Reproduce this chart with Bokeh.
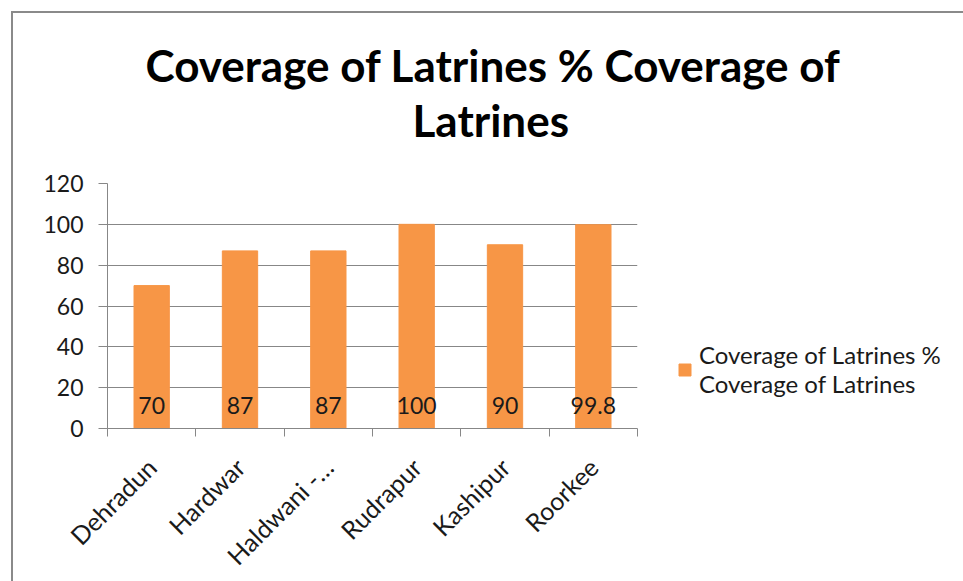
import numpy as np
from bokeh.plotting import figure
from bokeh.models import (ColumnDataSource, FixedTicker, Range1d, Title, Legend, LegendItem)
from bokeh.core.properties import value
from bokeh.embed import file_html
from bokeh.resources import INLINE

categories = ["Dehradun", "Hardwar", "Haldwani -…", "Rudrapur", "Kashipur", "Roorkee"]
coverage = [70, 87, 87, 100, 90, 99.8]
y_ticks = [0, 20, 40, 60, 80, 100, 120]
series_name = "Coverage of Latrines %\nCoverage of Latrines"
title_lines = ["Coverage of Latrines % Coverage of", "Latrines"]

FONT = "Lato"
GRID = "#878787"
BAR = "#F79646"

n = len(categories)
centers = np.arange(n) + 0.5
src = ColumnDataSource(dict(x=centers, top=coverage,
                            lbl=[f"{v:g}" for v in coverage]))

p = figure(frame_width=530, frame_height=245, output_backend="svg", toolbar_location=None,
           x_range=Range1d(0, n), y_range=Range1d(0, 120),
           min_border_left=94, min_border_right=326, min_border_top=170,
           min_border_bottom=153)
p.styles = {"margin-left": "11px", "margin-top": "11px",
            "border-left": "2px solid #8a8a8a", "border-top": "2px solid #8a8a8a"}
p.outline_line_color = None
p.background_fill_color = "white"
p.border_fill_color = "white"

r = p.vbar(x="x", top="top", bottom=0, width=0.4, color=BAR, source=src)
p.text(x="x", y=0, text="lbl", source=src, text_align="center",
       text_baseline="middle", y_offset=-23, text_font=value(FONT),
       text_font_size="23px", text_color="#1a1a1a")

# y axis
p.yaxis.ticker = FixedTicker(ticks=y_ticks)
p.yaxis.axis_line_color = GRID
p.yaxis.major_tick_line_color = GRID
p.yaxis.major_tick_out = 9
p.yaxis.major_tick_in = 0
p.yaxis.minor_tick_line_color = None
p.yaxis.major_label_standoff = 15
p.yaxis.major_label_text_font = FONT
p.yaxis.major_label_text_font_size = "23px"
p.yaxis.major_label_text_color = "#1a1a1a"

# x axis: labels at centers, ticks at boundaries (minor)
p.xaxis.ticker = FixedTicker(ticks=list(centers), minor_ticks=list(range(n + 1)))
p.xaxis.major_label_overrides = {float(c): cat for c, cat in zip(centers, categories)}
p.xaxis.axis_line_color = GRID
p.xaxis.major_tick_line_color = None
p.xaxis.minor_tick_line_color = GRID
p.xaxis.minor_tick_out = 8
p.xaxis.minor_tick_in = 0
p.xaxis.major_tick_out = 8
p.xaxis.major_label_orientation = np.pi / 4
p.xaxis.major_label_standoff = 26
p.xaxis.major_label_text_font = FONT
p.xaxis.major_label_text_font_size = "25px"
p.xaxis.major_label_text_color = "#1a1a1a"

p.xgrid.grid_line_color = None
p.ygrid.grid_line_color = GRID
p.ygrid.ticker = FixedTicker(ticks=y_ticks)

# title: two lines stacked above the frame (second line nearest the frame)
p.add_layout(Title(text=title_lines[1], align="left", offset=305, standoff=76,
                   text_font=FONT, text_font_style="bold", text_font_size="44px",
                   text_color="black"), "above")
p.add_layout(Title(text=title_lines[0], align="left", offset=38, standoff=-74,
                   text_font=FONT, text_font_style="bold", text_font_size="44px",
                   text_color="black"), "above")

legend = Legend(items=[LegendItem(label=series_name, renderers=[r])],
                location=(40, 30), glyph_width=15, glyph_height=15,
                margin=0, padding=10, label_standoff=7,
                label_text_font=FONT, label_text_font_size="24px",
                label_text_color="#1a1a1a", label_text_line_height=1.3,
                border_line_color=None, background_fill_alpha=0)
p.add_layout(legend, "right")

open("out.html", "w").write(file_html(p, INLINE))
